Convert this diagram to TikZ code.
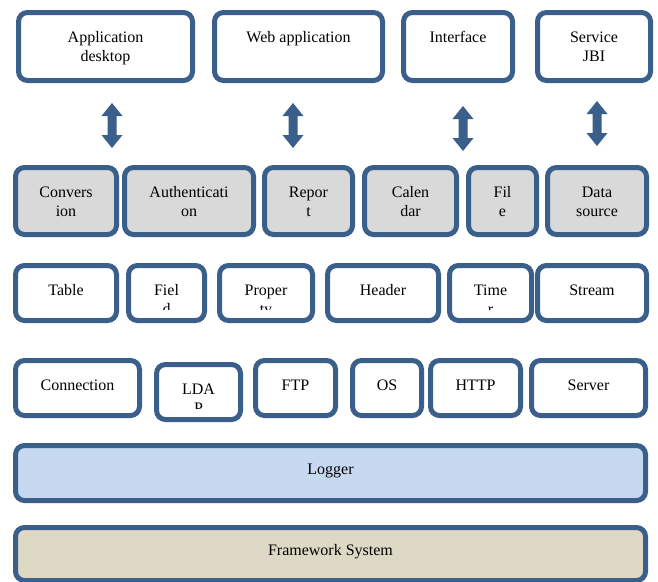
\documentclass[tikz,border=0pt]{standalone}
\usepackage{fontspec}
\setmainfont{Liberation Serif}
\definecolor{edge}{RGB}{58,95,139}
\definecolor{modgrey}{RGB}{217,217,217}
\definecolor{logblue}{RGB}{198,217,240}
\definecolor{frametan}{RGB}{221,217,196}

% box from outer corner (x1,y1) to (x2,y2), border 5pt wide
\newcommand\mkbox[6]{%
  \node[box,#6,minimum width={(#4-#2-5)*1pt},minimum height={(#5-#3-5)*1pt}]
    (#1) at ({(#2+#4)/2},{(#3+#5)/2}) {};}
% label hung from the top of a box
\newcommand\mklbl[2]{\node[lbl] (#1-t) at ([yshift=-19pt]#1.north) {#2};}
% label cut off near the bottom of its box
\newcommand\mkclbl[2]{%
  \begin{scope}
    \clip (#1.north west) rectangle ([yshift=11pt]#1.south east);
    \mklbl{#1}{#2}
  \end{scope}}

\begin{document}
\begin{tikzpicture}[x=1pt,y=-1pt,
  box/.style={draw=edge,line width=5pt,rounded corners=9pt,fill=white,
    inner sep=0pt,outer sep=0pt},
  grey/.style={fill=modgrey},
  lbl/.style={font=\fontsize{16}{19}\selectfont,align=center,anchor=north,
    inner sep=0pt},
  updown/.pic={\fill[edge] (0,0) -- (10.5,13) -- (4.5,13) -- (4.5,32)
    -- (10.5,32) -- (0,45) -- (-10.5,32) -- (-4.5,32) -- (-4.5,13)
    -- (-10.5,13) -- cycle;}]
\clip (0,0) rectangle (658,581);
\fill[white] (0,0) rectangle (658,581);

% clients
\mkbox{appd}{16}{10}{195}{83}{}
\mkbox{web}{212}{10}{385}{83}{}
\mkbox{intf}{401}{10}{515}{83}{}
\mkbox{jbi}{535}{10}{653}{83}{}
\mklbl{appd}{Application\\desktop}
\mklbl{web}{Web application}
\mklbl{intf}{Interface}
\mklbl{jbi}{Service\\JBI}

% exchange arrows
\pic at (112,103) {updown};
\pic at (293,103) {updown};
\pic at (463,106) {updown};
\pic at (597,101) {updown};

% services
\mkbox{conv}{13}{165}{119}{237}{grey}
\mkbox{auth}{122}{165}{256}{237}{grey}
\mkbox{rep}{262}{165}{355}{237}{grey}
\mkbox{cal}{362}{165}{459}{237}{grey}
\mkbox{file}{466}{165}{539}{237}{grey}
\mkbox{data}{545}{165}{649}{237}{grey}
\mklbl{conv}{Convers\\ion}
\mklbl{auth}{Authenticati\\on}
\mklbl{rep}{Repor\\t}
\mklbl{cal}{Calen\\dar}
\mklbl{file}{Fil\\e}
\mklbl{data}{Data\\source}

% data components
\mkbox{table}{13}{263}{119}{323}{}
\mkbox{field}{126}{263}{207}{323}{}
\mkbox{prop}{217}{263}{315}{323}{}
\mkbox{head}{325}{263}{441}{323}{}
\mkbox{timer}{447}{263}{534}{323}{}
\mkbox{stream}{535}{263}{649}{323}{}
\mklbl{table}{Table}
\mkclbl{field}{Fiel\\d}
\mkclbl{prop}{Proper\\ty}
\mklbl{head}{Header}
\mkclbl{timer}{Time\\r}
\mklbl{stream}{Stream}

% protocols
\mkbox{conn}{13}{358}{142}{418}{}
\mkbox{ldap}{154}{362}{243}{422}{}
\mkbox{ftp}{253}{358}{338}{418}{}
\mkbox{os}{350}{358}{424}{418}{}
\mkbox{http}{428}{358}{523}{418}{}
\mkbox{server}{529}{358}{648}{418}{}
\mklbl{conn}{Connection}
\mkclbl{ldap}{LDA\\P}
\mklbl{ftp}{FTP}
\mklbl{os}{OS}
\mklbl{http}{HTTP}
\mklbl{server}{Server}

% base layers
\mkbox{logger}{13}{443}{648}{503}{fill=logblue}
\mkbox{frame}{13}{525}{648}{583}{fill=frametan}
\node[lbl] (logger-t) at ([yshift=-18pt]logger.north) {Logger};
\node[lbl] (frame-t) at ([yshift=-17pt]frame.north) {Framework System};
\end{tikzpicture}
\end{document}
